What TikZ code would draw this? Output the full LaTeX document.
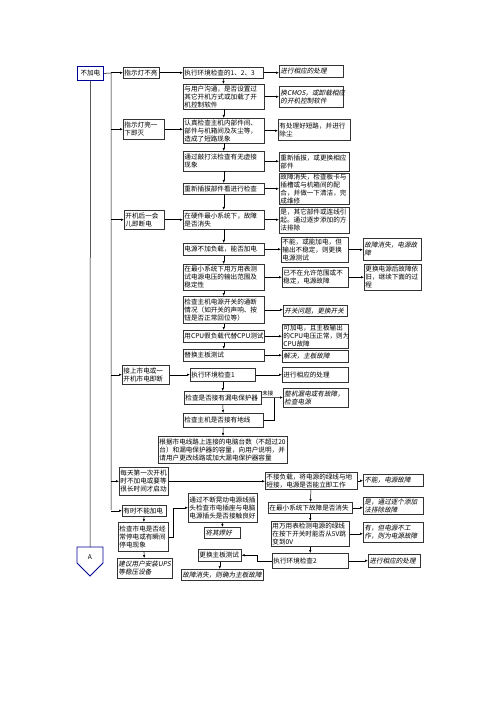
\documentclass[tikz,border=0pt]{standalone}
\usepackage{fontspec}
\usetikzlibrary{arrows.meta}
\newfontfamily\cjk{Noto Sans CJK SC}
\newfontfamily\cjkit[FakeSlant=0.2]{Noto Sans CJK SC}
\newcommand{\bxfont}{\cjk\fontsize{6.6}{7.9}\selectfont}
\newcommand{\itfont}{\cjkit\fontsize{6.6}{7.9}\selectfont}

\begin{document}
\begin{tikzpicture}[x=1pt, y=-1pt, >={Latex[length=3pt,width=2.4pt]},
    box/.style={draw=black!80, anchor=north west, inner xsep=1.2pt, inner ysep=0.8pt, align=left, font=\bxfont},
    res/.style={box, font=\itfont},
    every path/.style={line width=0.5pt}]
  \useasboundingbox[fill=white] (0,0) rectangle (500,708);

  \node[draw=blue!60!black, line width=0.8pt, anchor=north west, minimum width=26pt, minimum height=14pt, inner sep=0pt, font=\bxfont] (n0) at (77,66) {不加电};

  % symptoms
  \node[box, text width=34pt, minimum height=11pt] (p1) at (123,67) {指示灯不亮};
  \node[box, text width=39pt, minimum height=20pt] (p2) at (123,119) {指示灯亮一\\下即灭};
  \node[box, text width=38pt, minimum height=19pt] (p3) at (124,210) {开机后一会\\儿即断电};
  \node[box, text width=44.6pt, minimum height=19pt] (p4) at (122,365) {接上市电或一\\开机市电即断};
  \node[box, text width=46.6pt, minimum height=28pt] (p5) at (119,467) {每天第一次开机\\时不加电或要等\\很长时间才启动};
  \node[box, text width=41.6pt, minimum height=11pt] (p6) at (122,505) {有时不能加电};
  \node[box, text width=47.6pt, minimum height=29pt] (p7) at (118,522) {检查市电是否经\\常停电或有瞬间\\停电现象};
  \node[res, text width=52.6pt, minimum height=20pt] (p8) at (117,558) {建议用户安装UPS\\等稳压设备};

  % checks
  \node[box, text width=77.6pt, minimum height=11pt] (k1) at (183,67) {执行环境检查的1、2、3};
  \node[box, text width=78.6pt, minimum height=25pt] (k2) at (183,84) {与用户沟通，是否设置过\\其它开机方式或加载了开\\机控制软件};
  \node[box, text width=78.6pt, minimum height=25pt] (k3) at (183,118) {认真检查主机内部件间、\\部件与机箱间及灰尘等，\\造成了短路现象};
  \node[box, text width=78.6pt, minimum height=20pt] (k4) at (183,151) {通过敲打法检查有无虚接\\现象};
  \node[box, text width=78.6pt, minimum height=11pt] (k5) at (183,183) {重新插拔部件看进行检查};
  \node[box, text width=78.6pt, minimum height=19pt] (k6) at (183,210) {在硬件最小系统下，故障\\是否消失};
  \node[box, text width=78.6pt, minimum height=12pt] (k7) at (183,243) {电源不加负载，能否加电};
  \node[box, text width=78.6pt, minimum height=26pt] (k8) at (183,264) {在最小系统下用万用表测\\试电源电压的输出范围及\\稳定性};
  \node[box, text width=78.6pt, minimum height=27pt] (k9) at (183,296) {检查主机电源开关的通断\\情况（如开关的声响、按\\钮是否正常回位等）};
  \node[box, text width=78.6pt, minimum height=12pt] (k10) at (183,330) {用CPU假负载代替CPU测试};
  \node[box, text width=78.6pt, minimum height=12pt] (k11) at (183,349) {替换主板测试};
  \node[box, text width=62.6pt, minimum height=13pt] (k12) at (190,368) {执行环境检查1};
  \node[box, text width=74.6pt, minimum height=13pt] (k13) at (184,391) {检查是否接有漏电保护器};
  \node[box, text width=77.6pt, minimum height=14pt] (k14) at (183,413) {检查主机是否接有地线};
  \node[box, text width=126.6pt, minimum height=27pt] (k15) at (158,436) {根据市电线路上连接的电脑台数（不超过20\\台）和漏电保护器的容量，向用户说明，并\\请用户更改线路或加大漏电保护器容量};
  \node[box, text width=66.6pt, minimum height=29pt] (k16) at (188,493) {通过不断晃动电源线插\\头检查市电插座与电脑\\电源插头是否接触良好};
  \node[res, text width=33.6pt, minimum height=11pt] (k17) at (204,527) {将其焊好};
  \node[box, text width=40.6pt, minimum height=12pt] (k18) at (198,549) {更换主板测试};
  \node[res, text width=79.6pt, minimum height=11pt] (k19) at (181,569) {故障消失，则确为主板故障};
  \node[box, text width=89.6pt, minimum height=17pt] (k20) at (265,472) {不接负载，将电源的绿线与地\\短接，电源是否能立即工作};
  \node[box, text width=81.6pt, minimum height=11pt] (k21) at (268,502) {在最小系统下故障是否消失};
  \node[box, text width=75.6pt, minimum height=25pt] (k22) at (271,521) {用万用表检测电源的绿线\\在按下开关时能否从5V跳\\变到0V};
  \node[box, text width=73.6pt, minimum height=15pt] (k23) at (272,553) {执行环境检查2};

  % results
  \node[res, text width=61.6pt, minimum height=12pt] (r1) at (279,65) {进行相应的处理};
  \node[res, text width=61.6pt, minimum height=21pt] (r2) at (279,86) {换CMOS，或卸载相应\\的开机控制软件};
  \node[box, text width=69.6pt, minimum height=21pt] (r3) at (278,119) {有处理好短路，并进行\\除尘};
  \node[box, text width=67.6pt, minimum height=19pt] (r4) at (279,152) {重新插拔，或更换相应\\部件};
  \node[box, text width=67.6pt, minimum height=31pt] (r5) at (279,173) {故障消失，检查板卡与\\插槽或与机箱间的配\\合，并做一下清洁，完\\成维修};
  \node[box, text width=67.6pt, minimum height=26pt] (r6) at (279,207) {是，其它部件或连线引\\起。通过逐步添加的方\\法排除};
  \node[box, text width=64.6pt, minimum height=25pt] (r7) at (281,237) {不能，或能加电，但\\输出不稳定，则更换\\电源测试};
  \node[box, text width=63.6pt, minimum height=20pt] (r8) at (282,267) {已不在允许范围或不\\稳定，电源故障};
  \node[res, text width=61.6pt, minimum height=11pt] (r9) at (283,305) {开关问题，更换开关};
  \node[box, text width=63.6pt, minimum height=24pt] (r10) at (282,324) {可加电，且主板输出\\的CPU电压正常，则为\\CPU故障};
  \node[res, text width=63.6pt, minimum height=12pt] (r11) at (282,350) {解决，主板故障};
  \node[box, text width=63.6pt, minimum height=15pt] (r12) at (282,367) {进行相应的处理};
  \node[res, text width=62.6pt, minimum height=19pt] (r13) at (283,388) {整机漏电或有故障，\\检查电源};

  \node[res, text width=55.6pt, minimum height=22pt] (s1) at (363,238) {故障消失，电源故\\障};
  \node[box, text width=54.6pt, minimum height=26pt] (s2) at (364,264) {更换电源后故障依\\旧，继续下面的过\\程};
  \node[res, text width=57.6pt, minimum height=12pt] (s3) at (363,474) {不能，电源故障};
  \node[res, text width=57.6pt, minimum height=17pt] (s4) at (363,497) {是，通过逐个添加\\法排除故障};
  \node[res, text width=57.6pt, minimum height=20pt] (s5) at (363,522) {有，但电源不工\\作，则为电源故障};
  \node[res, text width=49.6pt, minimum height=13pt] (s6) at (368,554) {进行相应的处理};

  % off-page connector
  \draw[blue!60!black, line width=0.8pt] (77,547) -- (103,547) -- (103,563) -- (90,576) -- (77,563) -- cycle;
  \node[font=\bxfont] (pa) at (90,557) {A};

  \coordinate (tr) at (111,73);
  \coordinate (tb) at (111,510);
  \coordinate (atop) at (90,547);
  \coordinate (jn) at (274,397.5);

  \draw (n0.east) -- (tr) -- (tb);
  \draw (n0.south) -- (atop);
  \draw[->] (p1.west -| tr) -- (p1.west);
  \draw[->] (p2.west -| tr) -- (p2.west);
  \draw[->] (p3.west -| tr) -- (p3.west);
  \draw[->] (p4.west -| tr) -- (p4.west);
  \draw[->] (p5.west -| tr) -- (p5.west);
  \draw[->] (p6.west -| tr) -- (p6.west);

  \draw[->] (p1.east) -- (p1.east -| k1.west);
  \draw[->] (p2.east) -- (p2.east -| k3.west);
  \draw[->] (p3.east) -- (p3.east -| k6.west);
  \draw[->] (p4.east) -- (p4.east -| k12.west);
  \draw[->] (p5.east) -- (p5.east -| k20.west);
  \draw[->] (p6) to (p7);
  \draw[->] (p7) to (p8);
  \draw[->] (p7.east) -- ++(5,0) |- (k16.west);

  \draw[->] (k1) to (k2);
  \draw[->] (k2) to (k3);
  \draw[->] (k3) to (k4);
  \draw[->] (k4) to (k5);
  \draw[->] (k5) to (k6);
  \draw[->] (k6) to (k7);
  \draw[->] (k7) to (k8);
  \draw[->] (k8) to (k9);
  \draw[->] (k9) to (k10);
  \draw[->] (k10) to (k11);
  \draw[->] (k12) to (k13);
  \draw[->] (k13) to (k14);
  \draw[->] (k14) to (k15);
  \draw[->] (k16) to (k17);
  \draw[->] (k18.south) -- (k18.south |- k19.north);
  \draw[->] (k20) to (k21);
  \draw[->] (k21) to (k22);
  \draw[->] (k22) to (k23);
  \draw[->] (k23.west) -- ++(-15,0) |- (k18.east);

  \draw[->] (k1.east) -- (k1.east -| r1.west);
  \draw[->] (k2.east) -- (k2.east -| r2.west);
  \draw[->] (k3.east) -- (k3.east -| r3.west);
  \draw[->] (k4.east) -- (k4.east -| r4.west);
  \draw[->] (k5.east) -- (k5.east -| r5.west);
  \draw[->] (k6.east) -- (k6.east -| r6.west);
  \draw[->] (k7.east) -- (k7.east -| r7.west);
  \draw[->] (k8.east) -- (k8.east -| r8.west);
  \draw[->] (k9.east) -- (k9.east -| r9.west);
  \draw[->] (k10.east) -- (k10.east -| r10.west);
  \draw[->] (k11.east) -- (k11.east -| r11.west);
  \draw[->] (k12.east) -- (k12.east -| r12.west);
  \draw[->] (k13.east) -- node[above, font=\cjk\fontsize{5.5}{6}\selectfont, inner sep=1pt] {未接} (jn) -- (jn -| r13.west);
  \draw (k14.east) -| (jn);

  \draw[->] (r7.east) -- (r7.east -| s1.west);
  \draw[->] (r8.east) -- (r8.east -| s2.west);
  \draw[->] (k20.east) -- (k20.east -| s3.west);
  \draw[->] (k21.east) -- (k21.east -| s4.west);
  \draw[->] (k22.east) -- (k22.east -| s5.west);
  \draw[->] (k23.east) -- (k23.east -| s6.west);
\end{tikzpicture}
\end{document}
